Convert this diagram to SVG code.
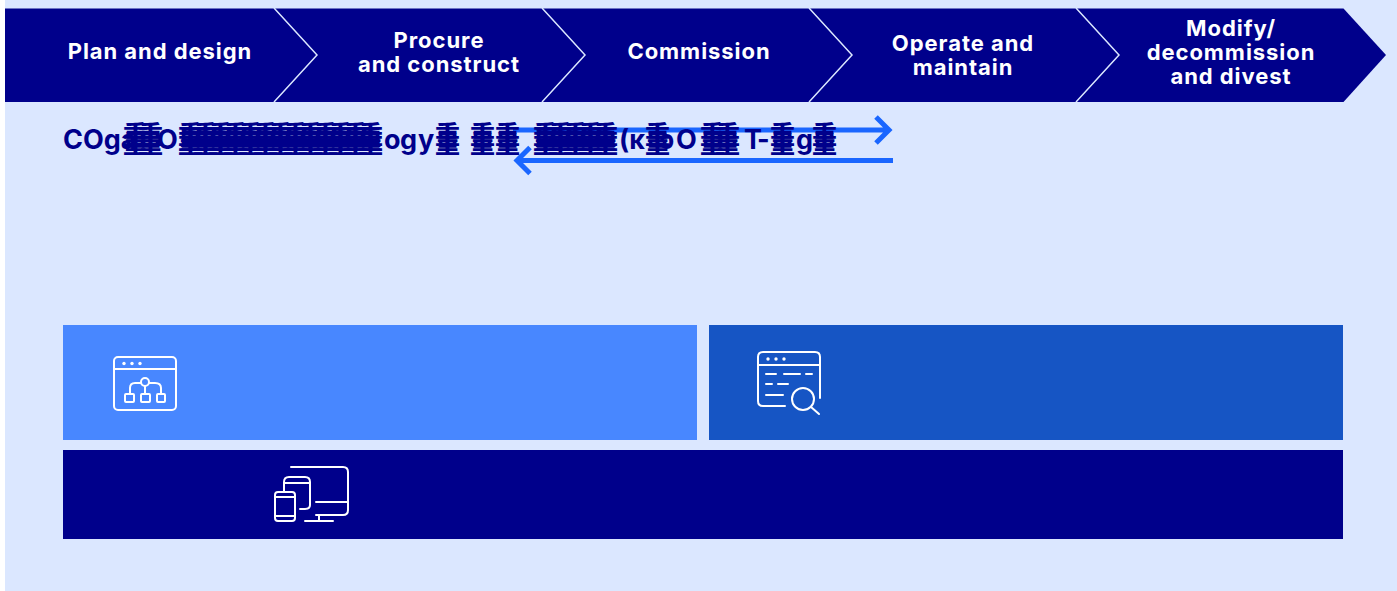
<svg xmlns="http://www.w3.org/2000/svg" width="1397" height="591" viewBox="0 0 1397 591">
<defs>
<style>
.stage{font-family:Inter,"Liberation Sans",sans-serif;font-size:22px;font-weight:700;fill:#fff;text-anchor:middle;letter-spacing:.95px}
.ov{font-family:Inter,"Noto Sans CJK SC",sans-serif;font-size:27px;font-weight:700;fill:#00008b}
.cjk{font-family:"Noto Sans CJK SC",sans-serif;font-size:25px;font-weight:900;fill:#00008b}
.sep{fill:none;stroke:#dbe7ff;stroke-width:1.5}
.ic{fill:none;stroke:#fff;stroke-width:2;stroke-linecap:round;stroke-linejoin:round}
.dot{fill:#fff}
.arr{fill:none;stroke:#1a66ff;stroke-width:5}
</style>
</defs>
<rect x="5" width="1392" height="591" fill="#dbe7ff"/>
<g id="stage-band">
<path d="M5 8.500H1343.500L1386 55L1343.500 102H5Z" fill="#00008b"/>
</g>
<g id="stage-1"><path class="sep" d="M274 8L317 55L274 102"/><text class="stage" x="160" y="59">Plan and design</text></g>
<g id="stage-2"><path class="sep" d="M542 8L585 55L542 102"/><text class="stage" x="439" y="48">Procure</text><text class="stage" x="439" y="72">and construct</text></g>
<g id="stage-3"><path class="sep" d="M809 8L852 55L809 102"/><text class="stage" x="699" y="59">Commission</text></g>
<g id="stage-4"><path class="sep" d="M1076 8L1119 55L1076 102"/><text class="stage" x="963" y="51">Operate and</text><text class="stage" x="963" y="75">maintain</text></g>
<g id="stage-5"><text class="stage" x="1231" y="36">Modify/</text><text class="stage" x="1231" y="60">decommission</text><text class="stage" x="1231" y="84">and divest</text></g>
<g id="connectors">
<path class="arr" d="M513 130H890M876 117L889 130L876 143"/>
<path class="arr" d="M893 160.500H516M530 147.500L517 160.500L530 173.500"/>
</g>
<g id="overlap-text">
<text class="ov" x="63" y="149">COga</text>
<text class="ov" x="157" y="149">O</text>
<text class="ov" x="384" y="149">o</text>
<text class="ov" x="400" y="149">g</text>
<text class="ov" x="418" y="149">y</text>
<text class="ov" x="619" y="149">(κ</text>
<text class="ov" x="659" y="149">ɔ</text>
<text class="ov" x="676" y="149">O</text>
<text class="ov" x="744" y="149">T</text>
<text class="ov" x="757" y="149">-</text>
<text class="ov" x="796" y="149">g</text>
<text class="cjk" x="123 138" y="144">重重</text>
<text class="cjk" x="123 138" y="153">重重</text>
<text class="cjk" x="178 193 208 223 238 253 268 283 298 313 328 343 358" y="144">重重重重重重重重重重重重重</text>
<text class="cjk" x="178 193 208 223 238 253 268 283 298 313 328 343 358" y="149">重重重重重重重重重重重重重</text>
<text class="cjk" x="178 193 208 223 238 253 268 283 298 313 328 343 358" y="153">重重重重重重重重重重重重重</text>
<text class="cjk" x="435" y="144">重</text>
<text class="cjk" x="435" y="153">重</text>
<text class="cjk" x="470 495" y="144">重重</text>
<text class="cjk" x="470 495" y="153">重重</text>
<text class="cjk" x="533 548 563 578 593" y="144">重重重重重</text>
<text class="cjk" x="533 548 563 578 593" y="149">重重重重重</text>
<text class="cjk" x="533 548 563 578 593" y="153">重重重重重</text>
<text class="cjk" x="645" y="144">重</text>
<text class="cjk" x="645" y="153">重</text>
<text class="cjk" x="700 715" y="144">重重</text>
<text class="cjk" x="700 715" y="153">重重</text>
<text class="cjk" x="770" y="144">重</text>
<text class="cjk" x="770" y="153">重</text>
<text class="cjk" x="812" y="144">重</text>
<text class="cjk" x="812" y="153">重</text>
</g>
<g id="panel-left">
<rect x="63" y="325" width="634" height="115" fill="#4887ff"/>
<rect class="ic" x="114" y="357" width="62" height="53" rx="4"/><path class="ic" d="M114 369H176"/>
<circle class="dot" cx="124" cy="363.500" r="1.700"/><circle class="dot" cx="132" cy="363.500" r="1.700"/><circle class="dot" cx="140" cy="363.500" r="1.700"/>
<circle class="ic" cx="145" cy="382" r="4"/>
<path class="ic" d="M141 383H135Q130 383 130 388V394M149 383H155Q161 383 161 388V394M145 386V394"/>
<rect class="ic" x="125" y="394" width="9" height="8" rx="1"/><rect class="ic" x="141" y="394" width="9" height="8" rx="1"/><rect class="ic" x="157" y="394" width="8" height="8" rx="1"/>
</g>
<g id="panel-right">
<rect x="709" y="325" width="634" height="115" fill="#1655c4"/>
<path class="ic" d="M785 406H763Q758 406 758 401V357Q758 352 763 352H815Q820 352 820 357V398M758 365H820"/>
<circle class="dot" cx="768" cy="359" r="1.700"/><circle class="dot" cx="776" cy="359" r="1.700"/><circle class="dot" cx="784" cy="359" r="1.700"/>
<path class="ic" d="M766 374H776M784 374H800M806 374H812M766 384H772M778 384H788M766 395H783"/>
<circle class="ic" cx="803" cy="399" r="11"/><path class="ic" d="M811 407L819 414"/>
</g>
<g id="panel-bottom">
<rect x="63" y="450" width="1280" height="89" fill="#00008b"/>
<path class="ic" d="M291 467H343Q348 467 348 472V510Q348 515 343 515H316M316 502H348M319 515V521M305 521H333"/>
<path class="ic" d="M284 491V482Q284 477 289 477H305Q310 477 310 482V505Q310 509 305 509H300M284 483H310"/>
<rect class="ic" x="275" y="492" width="20" height="29" rx="3"/><path class="ic" d="M275 497H295M275 516H295"/>
</g>
</svg>
